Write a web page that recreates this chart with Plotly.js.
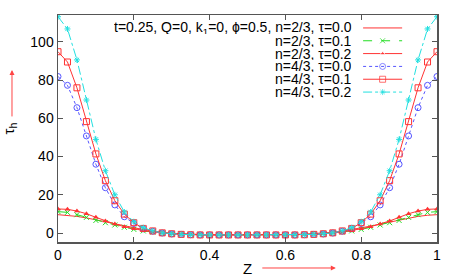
<!DOCTYPE html>
<html><head><meta charset="utf-8">
<script src="https://cdn.plot.ly/plotly-3.0.1.min.js"></script>
<style>html,body{margin:0;padding:0;background:#fff}#c{width:464px;height:277px}</style>
</head><body><div id="c"></div>
<script>
var z = [0,0.025,0.05,0.075,0.1,0.125,0.15,0.175,0.2,0.225,0.25,0.275,0.3,0.325,0.35,0.375,0.4,0.425,0.45,0.475,0.5,
         0.525,0.55,0.575,0.6,0.625,0.65,0.675,0.7,0.725,0.75,0.775,0.8,0.825,0.85,0.875,0.9,0.925,0.95,0.975,1];
var n23t00 = [9.6,9.3,8.7,7.9,6.9,5.8,4.7,3.6,2.6,1.8,1.0,0.4,-0.1,-0.4,-0.6,-0.8,-0.9,-1.0,-1.0,-1.0,-1.0,
              -1.0,-1.0,-1.0,-0.9,-0.8,-0.6,-0.4,-0.1,0.4,1.0,1.8,2.6,3.6,4.7,5.8,6.9,7.9,8.7,9.3,9.6];
var n23t01 = [11.2,10.8,9.6,8.2,6.6,5.4,4.2,3.0,1.9,1.1,0.5,0.0,-0.4,-0.6,-0.8,-0.9,-1.0,-1.0,-1.0,-1.0,-1.0,
              -1.0,-1.0,-1.0,-1.0,-0.9,-0.8,-0.6,-0.4,0.0,0.5,1.1,1.9,3.0,4.2,5.4,6.6,8.2,9.6,10.8,11.2];
var n23t02 = [12.6,12.4,11.5,10.1,8.2,6.3,4.7,3.3,2.2,1.3,0.6,0.0,-0.4,-0.6,-0.8,-0.9,-1.0,-1.0,-1.0,-1.0,-1.0,
              -1.0,-1.0,-1.0,-1.0,-0.9,-0.8,-0.6,-0.4,0.0,0.6,1.3,2.2,3.3,4.7,6.3,8.2,10.1,11.5,12.4,12.6];
var n43t00 = [81.9,77.3,65.6,50.8,36.0,23.7,14.7,8.5,5.0,2.2,0.9,0.0,-0.5,-0.7,-0.9,-1.0,-1.0,-1.0,-1.0,-1.0,-1.0,
              -1.0,-1.0,-1.0,-1.0,-1.0,-0.9,-0.7,-0.5,0.0,0.9,2.2,5.0,8.5,14.7,23.7,36.0,50.8,65.6,77.3,81.9];
var n43t01 = [94.9,89.5,76.0,58.3,41.4,27.4,16.9,9.9,5.4,2.4,1.1,0.1,-0.4,-0.7,-0.9,-1.0,-1.0,-1.0,-1.0,-1.0,-1.0,
              -1.0,-1.0,-1.0,-1.0,-1.0,-0.9,-0.7,-0.4,0.1,1.1,2.4,5.4,9.9,16.9,27.4,41.4,58.3,76.0,89.5,94.9];
var n43t02 = [113.2,106.8,90.6,69.6,49.0,32.6,20.0,11.0,5.9,2.8,1.1,0.1,-0.4,-0.7,-0.9,-1.0,-1.0,-1.0,-1.0,-1.0,-1.0,
              -1.0,-1.0,-1.0,-1.0,-1.0,-0.9,-0.7,-0.4,0.1,1.1,2.8,5.9,11.0,20.0,32.6,49.0,69.6,90.6,106.8,113.2];
var labels = ['t=0.25, Q=0, k<sub>1</sub>=0, ϕ=0.5, n=2/3, τ=0.0','n=2/3, τ=0.1','n=2/3, τ=0.2',
              'n=4/3, τ=0.0','n=4/3, τ=0.1','n=4/3, τ=0.2'];
var xTicks = [0,0.2,0.4,0.6,0.8,1];
var xTickText = ['0','0.2','0.4','0.6','0.8','1'];
var yTicks = [0,20,40,60,80,100];

var series = [n23t00,n23t01,n23t02,n43t00,n43t01,n43t02];
var styles = [
  {line:{color:'#ff3333',width:1,dash:'solid'}, mode:'lines', marker:{}},
  {line:{color:'#22dd22',width:1,dash:'dash'}, mode:'lines+markers', marker:{symbol:'x-thin-open',size:5,color:'#22dd22',line:{width:1,color:'#22dd22'}}},
  {line:{color:'#ff3333',width:1,dash:'solid'}, mode:'lines+markers', marker:{symbol:'triangle-up',size:5,color:'#ff3333'}},
  {line:{color:'#5555ff',width:1,dash:'dot'}, mode:'lines+markers', marker:{symbol:'circle-open',size:6,color:'#5555ff',line:{width:1,color:'#5555ff'}}},
  {line:{color:'#ff3333',width:1,dash:'solid'}, mode:'lines+markers', marker:{symbol:'square-open',size:6,color:'#ff3333',line:{width:1,color:'#ff3333'}}},
  {line:{color:'#22e0e0',width:1,dash:'dashdot'}, mode:'lines+markers', marker:{symbol:'asterisk-open',size:5,color:'#22e0e0',line:{width:1,color:'#22e0e0'}}}
];
var traces = [];
series.forEach(function(s,i){
  traces.push({x:z,y:s,type:'scatter',mode:styles[i].mode,line:styles[i].line,marker:styles[i].marker,name:labels[i],showlegend:false});
});
// legend samples on overlay axes (paper-like 0..1 ranges)
var legTextX = 0.778, legX0 = 0.805, legX1 = 0.908, legTop = 0.943, legStep = 0.0565;
var annotations = [];
labels.forEach(function(l,i){
  var yy = legTop - i*legStep;
  var mk = JSON.parse(JSON.stringify(styles[i].marker));
  if (i>0) mk.size = [0, styles[i].marker.size, 0]; else mk.size = 0;
  traces.push({x:[legX0,(legX0+legX1)/2,legX1],y:[yy,yy,yy],xaxis:'x2',yaxis:'y2',type:'scatter',
    mode:styles[i].mode==='lines'?'lines':'lines+markers',line:styles[i].line,marker:mk,showlegend:false,hoverinfo:'skip'});
  annotations.push({xref:'paper',yref:'paper',x:legTextX,y:yy,xanchor:'right',yanchor:'middle',text:l,showarrow:false,
    height:12,borderpad:0,valign:'middle',
    font:{family:'Liberation Sans, Arial, sans-serif',size:14,color:'#000'}});
});
annotations.push({xref:'paper',yref:'paper',x:0.733,y:-0.1145,ax:-75,ay:0,text:'',showarrow:true,arrowhead:2,arrowsize:1,arrowwidth:1,arrowcolor:'#ff4444'});
annotations.push({xref:'paper',yref:'paper',x:-0.1214,y:0.758,ax:0,ay:48,text:'',showarrow:true,arrowhead:2,arrowsize:1,arrowwidth:1,arrowcolor:'#ff4444'});

var axCommon = {showgrid:false,zeroline:false,ticks:'inside',ticklen:5,tickcolor:'#555',linecolor:'#555',linewidth:1.5,
  showline:true,mirror:'ticks',tickfont:{family:'Liberation Sans, Arial, sans-serif',size:14,color:'#000'}};
var layout = {
  width:464,height:277,margin:{l:58,r:27,t:15,b:35},paper_bgcolor:'#fff',plot_bgcolor:'#fff',showlegend:false,
  xaxis:Object.assign({},axCommon,{range:[0,1],tickvals:xTicks,ticktext:xTickText,
    title:{text:'Z',standoff:4,font:{family:'Liberation Sans, Arial, sans-serif',size:15,color:'#000'}}}),
  yaxis:Object.assign({},axCommon,{range:[-4.7,114.1],tickvals:yTicks,
    title:{text:'τ<sub>h</sub>',standoff:22,font:{family:'Liberation Sans, Arial, sans-serif',size:15,color:'#000'}}}),
  xaxis2:{overlaying:'x',range:[0,1],visible:false,fixedrange:true,anchor:'y2'},
  yaxis2:{overlaying:'y',range:[0,1],visible:false,fixedrange:true,anchor:'x2'},
  annotations:annotations
};
Plotly.newPlot('c',traces,layout,{displayModeBar:false,staticPlot:true});
</script></body></html>
